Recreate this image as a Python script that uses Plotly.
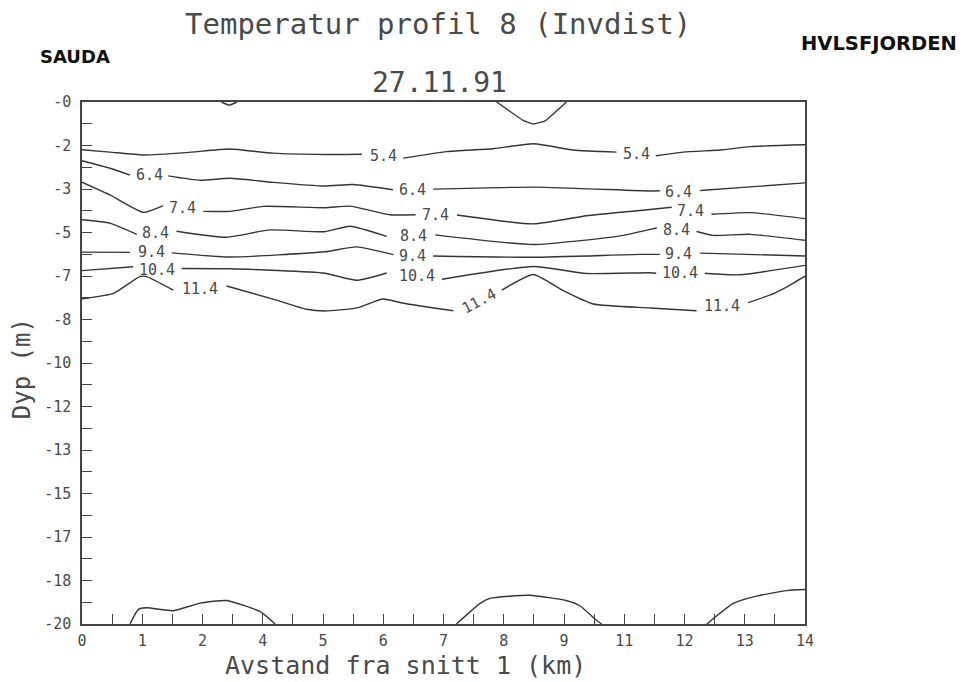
import plotly.graph_objects as go

# ---------------- data (distance km, depth m) ----------------
x_tick_labels = ["0", "1", "2", "4", "5", "6", "7", "8", "9", "11", "12", "13", "14"]
y_tick_labels = ["-0", "-2", "-3", "-5", "-7", "-8", "-10", "-12", "-13", "-15", "-17", "-18", "-20"]

c54_x = [0, 0.54, 1.19, 2.03, 2.86, 3.70, 4.70, 5.42, None, 6.22, 7.06, 7.96, 8.74, 9.51, 10.35, None, 11.11, 11.64, 12.41, 12.94, 14]
c54_d = [1.83, 1.92, 2.03, 1.94, 1.80, 1.96, 2.01, 2.00, None, 2.15, 1.90, 1.79, 1.60, 1.84, 1.92, None, 2.06, 1.92, 1.83, 1.71, 1.64]

c64_x = [0, 0.54, 0.93, None, 1.67, 2.29, 2.87, 3.70, 4.70, 5.25, 6.02, None, 6.80, 8.80, 11.0, 11.19, None, 11.97, 12.94, 14]
c64_d = [2.25, 2.54, 2.80, None, 2.83, 3.00, 2.92, 3.08, 3.22, 3.16, 3.36, None, 3.34, 3.26, 3.41, 3.40, None, 3.39, 3.25, 3.10]

c74_x = [0, 0.54, 1.19, 1.57, None, 2.35, 2.87, 3.51, 4.70, 5.19, 5.96, 6.46, None, 7.26, 8.74, 9.77, 10.9, 11.42, None, 12.19, 12.94, 14]
c74_d = [3.07, 3.56, 4.23, 3.97, None, 4.19, 4.19, 4.00, 4.05, 3.99, 4.32, 4.32, None, 4.33, 4.67, 4.36, 4.14, 4.03, None, 4.30, 4.24, 4.47]

c84_x = [0, 0.54, 1.06, None, 1.83, 2.80, 3.64, 4.70, 5.19, 5.90, None, 6.84, 8.74, 10.42, 11.0, 11.13, None, 11.90, 12.22, 12.94, 14]
c84_d = [4.51, 4.64, 5.07, None, 4.95, 5.18, 4.90, 4.97, 4.76, 5.15, None, 5.09, 5.46, 5.13, 4.88, 4.83, None, 4.96, 5.11, 5.07, 5.30]

c94_x = [0, 0.93, None, 1.74, 2.87, 4.70, 5.32, 6.03, None, 6.80, 8.74, 10.81, 11.19, None, 11.97, 14]
c94_d = [5.75, 5.76, None, 5.78, 5.94, 5.74, 5.55, 5.85, None, 5.90, 5.95, 5.84, 5.84, None, 5.79, 5.90]

c104_x = [0, 0.99, None, 1.93, 2.87, 4.70, 5.32, 5.90, None, 6.97, 8.74, 9.77, 11.0, 11.12, None, 12.06, 12.74, 14]
c104_d = [6.46, 6.31, None, 6.38, 6.39, 6.56, 6.83, 6.55, None, 6.79, 6.30, 6.57, 6.54, 6.56, None, 6.56, 6.62, 6.26]

c114_x = [0, 0.61, 1.12, 1.25, 1.77, None, 2.80, 3.70, 4.35, 4.70, 5.32, 5.83, 6.22, 7.19, None, 8.13, 8.74, 9.32, 9.90, 11.0, 11.90, None, 12.90, 13.39, 13.65, 14]
c114_d = [7.54, 7.33, 6.69, 6.69, 7.21, None, 7.05, 7.55, 7.94, 8.01, 7.89, 7.55, 7.71, 8.0, None, 7.21, 6.61, 7.23, 7.74, 7.89, 8.0, None, 7.69, 7.34, 7.08, 6.67]

ctop_x = [2.70, 2.85, 3.00, None, 8.03, 8.54, 8.74, 8.97, 9.38]
ctop_d = [0, 0.12, 0, None, 0, 0.70, 0.84, 0.72, 0]

cbot_x = [0.93, 1.09, 1.25, 1.77, 2.29, 2.80, 3.45, 3.74, None,
          7.25, 7.71, 7.90, 8.67, 9.39, 9.64, 9.90, 10.06, None,
          12.10, 12.61, 13.06, 13.65, 14]
cbot_d = [20, 19.44, 19.38, 19.49, 19.20, 19.10, 19.53, 20, None,
          20, 19.21, 19.02, 18.90, 19.11, 19.30, 19.75, 20, None,
          20, 19.21, 18.93, 18.72, 18.68]

label_text = ["5.4", "5.4", "6.4", "6.4", "6.4", "7.4", "7.4", "7.4", "8.4", "8.4", "8.4",
              "9.4", "9.4", "9.4", "10.4", "10.4", "10.4", "11.4", "11.4", "11.4"]
label_x = [5.83, 10.73, 1.30, 6.39, 11.56, 1.94, 6.85, 11.79, 1.43, 6.41, 11.52,
           1.34, 6.39, 11.56, 1.45, 6.49, 11.58, 2.29, 7.69, 12.39]
label_d = [2.08, 1.98, 2.81, 3.37, 3.44, 4.07, 4.32, 4.16, 5.03, 5.12, 4.90,
           5.76, 5.89, 5.84, 6.42, 6.68, 6.55, 7.18, 7.62, 7.80]
label_angle = [0, 0, 0, 0, 0, 0, 0, 0, 0, 0, 0, 0, 0, 0, 0, 0, 0, 0, -28, 0]

# ---------------- figure ----------------
MONO = "DejaVu Sans Mono"
INK = "#353535"
TXT = "#4a4a4a"


def neg(vals):
    return [None if v is None else -v for v in vals]


fig = go.Figure()
smooth_lines = [(c54_x, c54_d), (c64_x, c64_d), (c74_x, c74_d), (c84_x, c84_d),
                (c94_x, c94_d), (c104_x, c104_d), (c114_x, c114_d), (cbot_x, cbot_d)]
for xs, ds in smooth_lines:
    fig.add_trace(go.Scatter(x=xs, y=neg(ds), mode="lines",
                             line=dict(color=INK, width=1.4, shape="spline", smoothing=0.5),
                             connectgaps=False, hoverinfo="skip", showlegend=False))
fig.add_trace(go.Scatter(x=ctop_x, y=neg(ctop_d), mode="lines",
                         line=dict(color=INK, width=1.4, shape="spline", smoothing=0.3),
                         connectgaps=False, hoverinfo="skip", showlegend=False))

for t, lx, ld, la in zip(label_text, label_x, label_d, label_angle):
    fig.add_annotation(x=lx, y=-ld, text=t, showarrow=False, textangle=la,
                       xanchor="center", yanchor="middle",
                       font=dict(family=MONO, size=15, color=TXT))

n_y = 24
y_vals = [-20 * i / n_y for i in range(n_y + 1)]
y_text = [y_tick_labels[i // 2] if i % 2 == 0 else "" for i in range(n_y + 1)]
n_x = 24
x_vals = [14 * i / n_x for i in range(n_x + 1)]
x_text = [x_tick_labels[i // 2] if i % 2 == 0 else "" for i in range(n_x + 1)]

fig.update_xaxes(range=[0, 14], tickmode="array", tickvals=x_vals, ticktext=x_text,
                 ticks="inside", ticklen=10, tickwidth=1.4, tickcolor="#444",
                 showline=True, linecolor="#444", linewidth=1.5, mirror=True,
                 showgrid=False, zeroline=False,
                 tickfont=dict(family=MONO, size=15, color=TXT), ticklabelstandoff=2)
fig.update_yaxes(range=[-20, 0], tickmode="array", tickvals=y_vals, ticktext=y_text,
                 ticks="inside", ticklen=10, tickwidth=1.4, tickcolor="#444",
                 showline=True, linecolor="#444", linewidth=1.5, mirror=True,
                 showgrid=False, zeroline=False,
                 tickfont=dict(family=MONO, size=15, color=TXT), ticklabelstandoff=6)


def note(x, y, text, size, family=MONO, color=TXT, angle=0):
    fig.add_annotation(xref="paper", yref="paper", x=x, y=y, text=text, textangle=angle,
                       xanchor="center", yanchor="middle", showarrow=False,
                       font=dict(family=family, size=size, color=color))


note(0.492, 1.149, "Temperatur profil 8 (Invdist)", 29)
note(0.494, 1.037, "27.11.91", 28)
note(0.447, -0.080, "Avstand fra snitt 1 (km)", 25)
note(-0.083, 0.49, "Dyp (m)", 24, angle=-90)
note(-0.0097, 1.088, "<b>SAUDA</b>", 18, family="DejaVu Sans", color="#111")
note(1.103, 1.112, "<b>HVLSFJORDEN</b>", 19.5, family="DejaVu Sans", color="#111")

fig.update_layout(width=968, height=682, margin=dict(l=74, r=171, t=94, b=66),
                  paper_bgcolor="white", plot_bgcolor="white", showlegend=False)

fig.write_html("out.html")
